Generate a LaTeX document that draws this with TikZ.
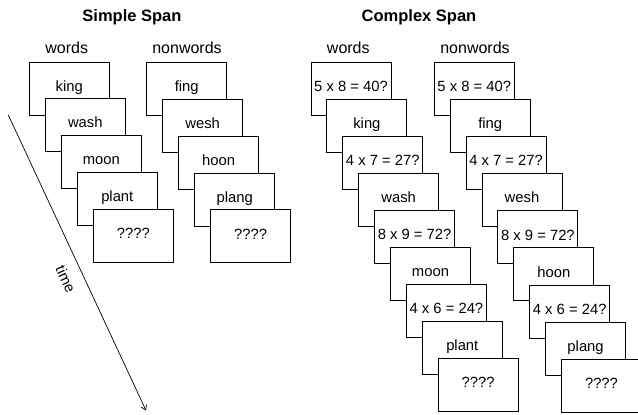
\documentclass[tikz,border=0pt]{standalone}
\usepackage{fontspec}
\setmainfont{Liberation Sans}
\usepackage{tikz}
\usetikzlibrary{arrows.meta}

\begin{document}
\begin{tikzpicture}
			[x=1pt,y=-1pt,line cap=round,
			%Styles
			card/.style={draw,fill=white,line width=1pt,minimum width=80pt,minimum height=53pt,inner sep=0pt,
				font=\fontsize{14.8}{17}\selectfont,text height=0.72em,text depth=0.2em},
			column title/.style={font=\fontsize{16}{19}\selectfont},
			span title/.style={font=\fontsize{16.5}{19}\selectfont\bfseries},
			time line/.style={line width=0.7pt,-{Straight Barb[length=4.5pt,width=6pt]}}
			]
			
			%Frame
			\clip (0,0) rectangle (638,415);
			
			%Titles
			\node[span title] (simple) at (132,17.5) {Simple Span};
			\node[span title] (complex) at (419,17.5) {Complex Span};
			\node[column title] (swtitle) at (66.7,48) {words};
			\node[column title] (sntitle) at (187,48) {nonwords};
			\node[column title] (cwtitle) at (348.3,48) {words};
			\node[column title] (cntitle) at (475,48) {nonwords};
			
			%Simple span, words
			\node[card] (sw0) at (69.3,88.5) {king};
			\node[card] (sw1) at (85.3,125.3) {wash};
			\node[card] (sw2) at (101.3,162.1) {moon};
			\node[card] (sw3) at (117.3,198.9) {plant};
			\node[card] (sw4) at (133.3,235.7) {????};
			
			%Simple span, nonwords
			\node[card] (sn0) at (186.7,89.2) {fing};
			\node[card] (sn1) at (202.7,126) {wesh};
			\node[card] (sn2) at (218.7,162.8) {hoon};
			\node[card] (sn3) at (234.7,199.6) {plang};
			\node[card] (sn4) at (250.7,236.4) {????};
			
			%Complex span, words
			\node[card] (cw0) at (351,88.8) {5 x 8 = 40?};
			\node[card] (cw1) at (366.9,125.85) {king};
			\node[card] (cw2) at (382.8,162.9) {4 x 7 = 27?};
			\node[card] (cw3) at (398.7,199.95) {wash};
			\node[card] (cw4) at (414.6,237) {8 x 9 = 72?};
			\node[card] (cw5) at (430.5,274.05) {moon};
			\node[card] (cw6) at (446.4,311.1) {4 x 6 = 24?};
			\node[card] (cw7) at (462.3,348.15) {plant};
			\node[card] (cw8) at (478.2,385.2) {????};
			
			%Complex span, nonwords
			\node[card] (cn0) at (474.3,89.2) {5 x 8 = 40?};
			\node[card] (cn1) at (490.2,126.25) {fing};
			\node[card] (cn2) at (506.1,163.3) {4 x 7 = 27?};
			\node[card] (cn3) at (522,200.35) {wesh};
			\node[card] (cn4) at (537.9,237.4) {8 x 9 = 72?};
			\node[card] (cn5) at (553.8,274.45) {hoon};
			\node[card] (cn6) at (569.7,311.5) {4 x 6 = 24?};
			\node[card] (cn7) at (585.6,348.55) {plang};
			\node[card] (cn8) at (601.5,385.6) {????};
			
			%Time axis
			\coordinate (tstart) at (8.3,115);
			\coordinate (tend) at (146,410.5);
			\draw[time line] (tstart) -- node[sloped,below=8pt,pos=0.53,font=\fontsize{14.8}{17}\selectfont] (timelabel) {time} (tend);
		\end{tikzpicture}
\end{document}
